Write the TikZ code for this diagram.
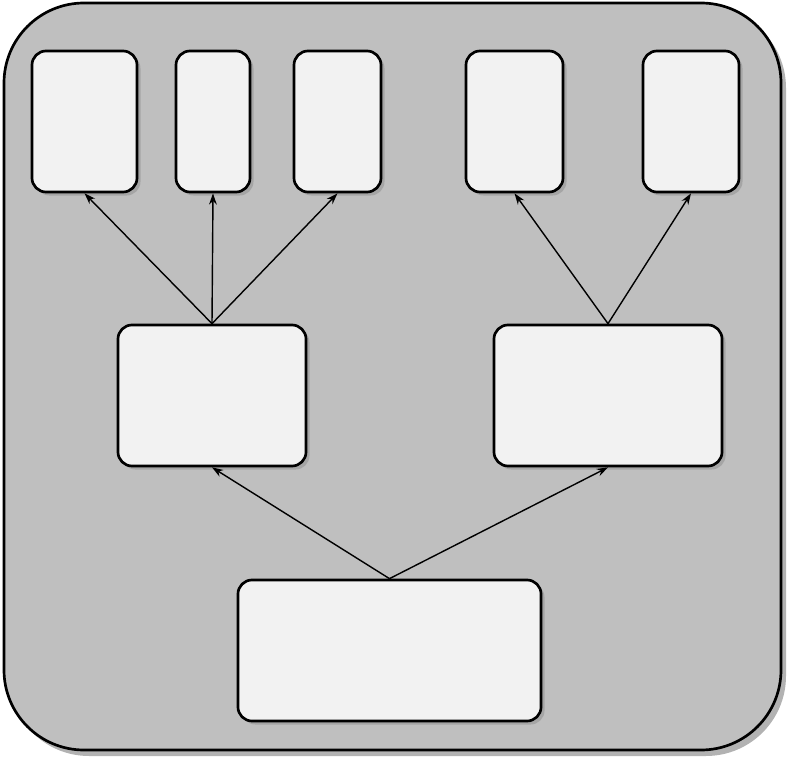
\documentclass[tikz,border=0pt]{standalone}
\usepackage{tikz}
\usetikzlibrary{arrows.meta, shadows}

\begin{document}
\begin{tikzpicture}[x=0.025cm, y=-0.025cm,
    leaf/.style={draw, line width=1.9pt, fill=gray!10, rounded corners=10pt,
        inner sep=0pt, minimum height=3.525cm,
        drop shadow={opacity=0.4, shadow xshift=2.5pt, shadow yshift=-2.5pt}},
    link/.style={line width=1pt, -{Stealth[length=8pt, width=5.5pt]}}]

    % --- Canvas ---
    \useasboundingbox (0,0) rectangle (789,761);

    % --- Outer panel ---
    \fill[black, opacity=0.3] (9,8) [rounded corners=2cm] rectangle (786,756);
    \draw[line width=1.9pt, fill=black!25, rounded corners=2cm] (4,3) rectangle (781,750);

    % --- Top row ---
    \node[leaf, minimum width=2.625cm] (leafA) at (84.5,121.5) {};
    \node[leaf, minimum width=1.85cm]  (leafB) at (213,121.5) {};
    \node[leaf, minimum width=2.175cm] (leafC) at (337.5,121.5) {};
    \node[leaf, minimum width=2.425cm] (leafD) at (514.5,121.5) {};
    \node[leaf, minimum width=2.4cm]   (leafE) at (691,121.5) {};

    % --- Middle row ---
    \node[leaf, minimum width=4.7cm] (midL) at (212,395.5) {};
    \node[leaf, minimum width=5.7cm] (midR) at (608,395.5) {};

    % --- Root ---
    \node[leaf, minimum width=7.575cm] (root) at (389.5,650.5) {};

    % --- Connectors ---
    \draw[link] (midL.north) -- (leafA.south);
    \draw[link] (midL.north) -- (leafB.south);
    \draw[link] (midL.north) -- (leafC.south);
    \draw[link] (midR.north) -- (leafD.south);
    \draw[link] (midR.north) -- (leafE.south);
    \draw[link] (root.north) -- (midL.south);
    \draw[link] (root.north) -- (midR.south);

\end{tikzpicture}
\end{document}
